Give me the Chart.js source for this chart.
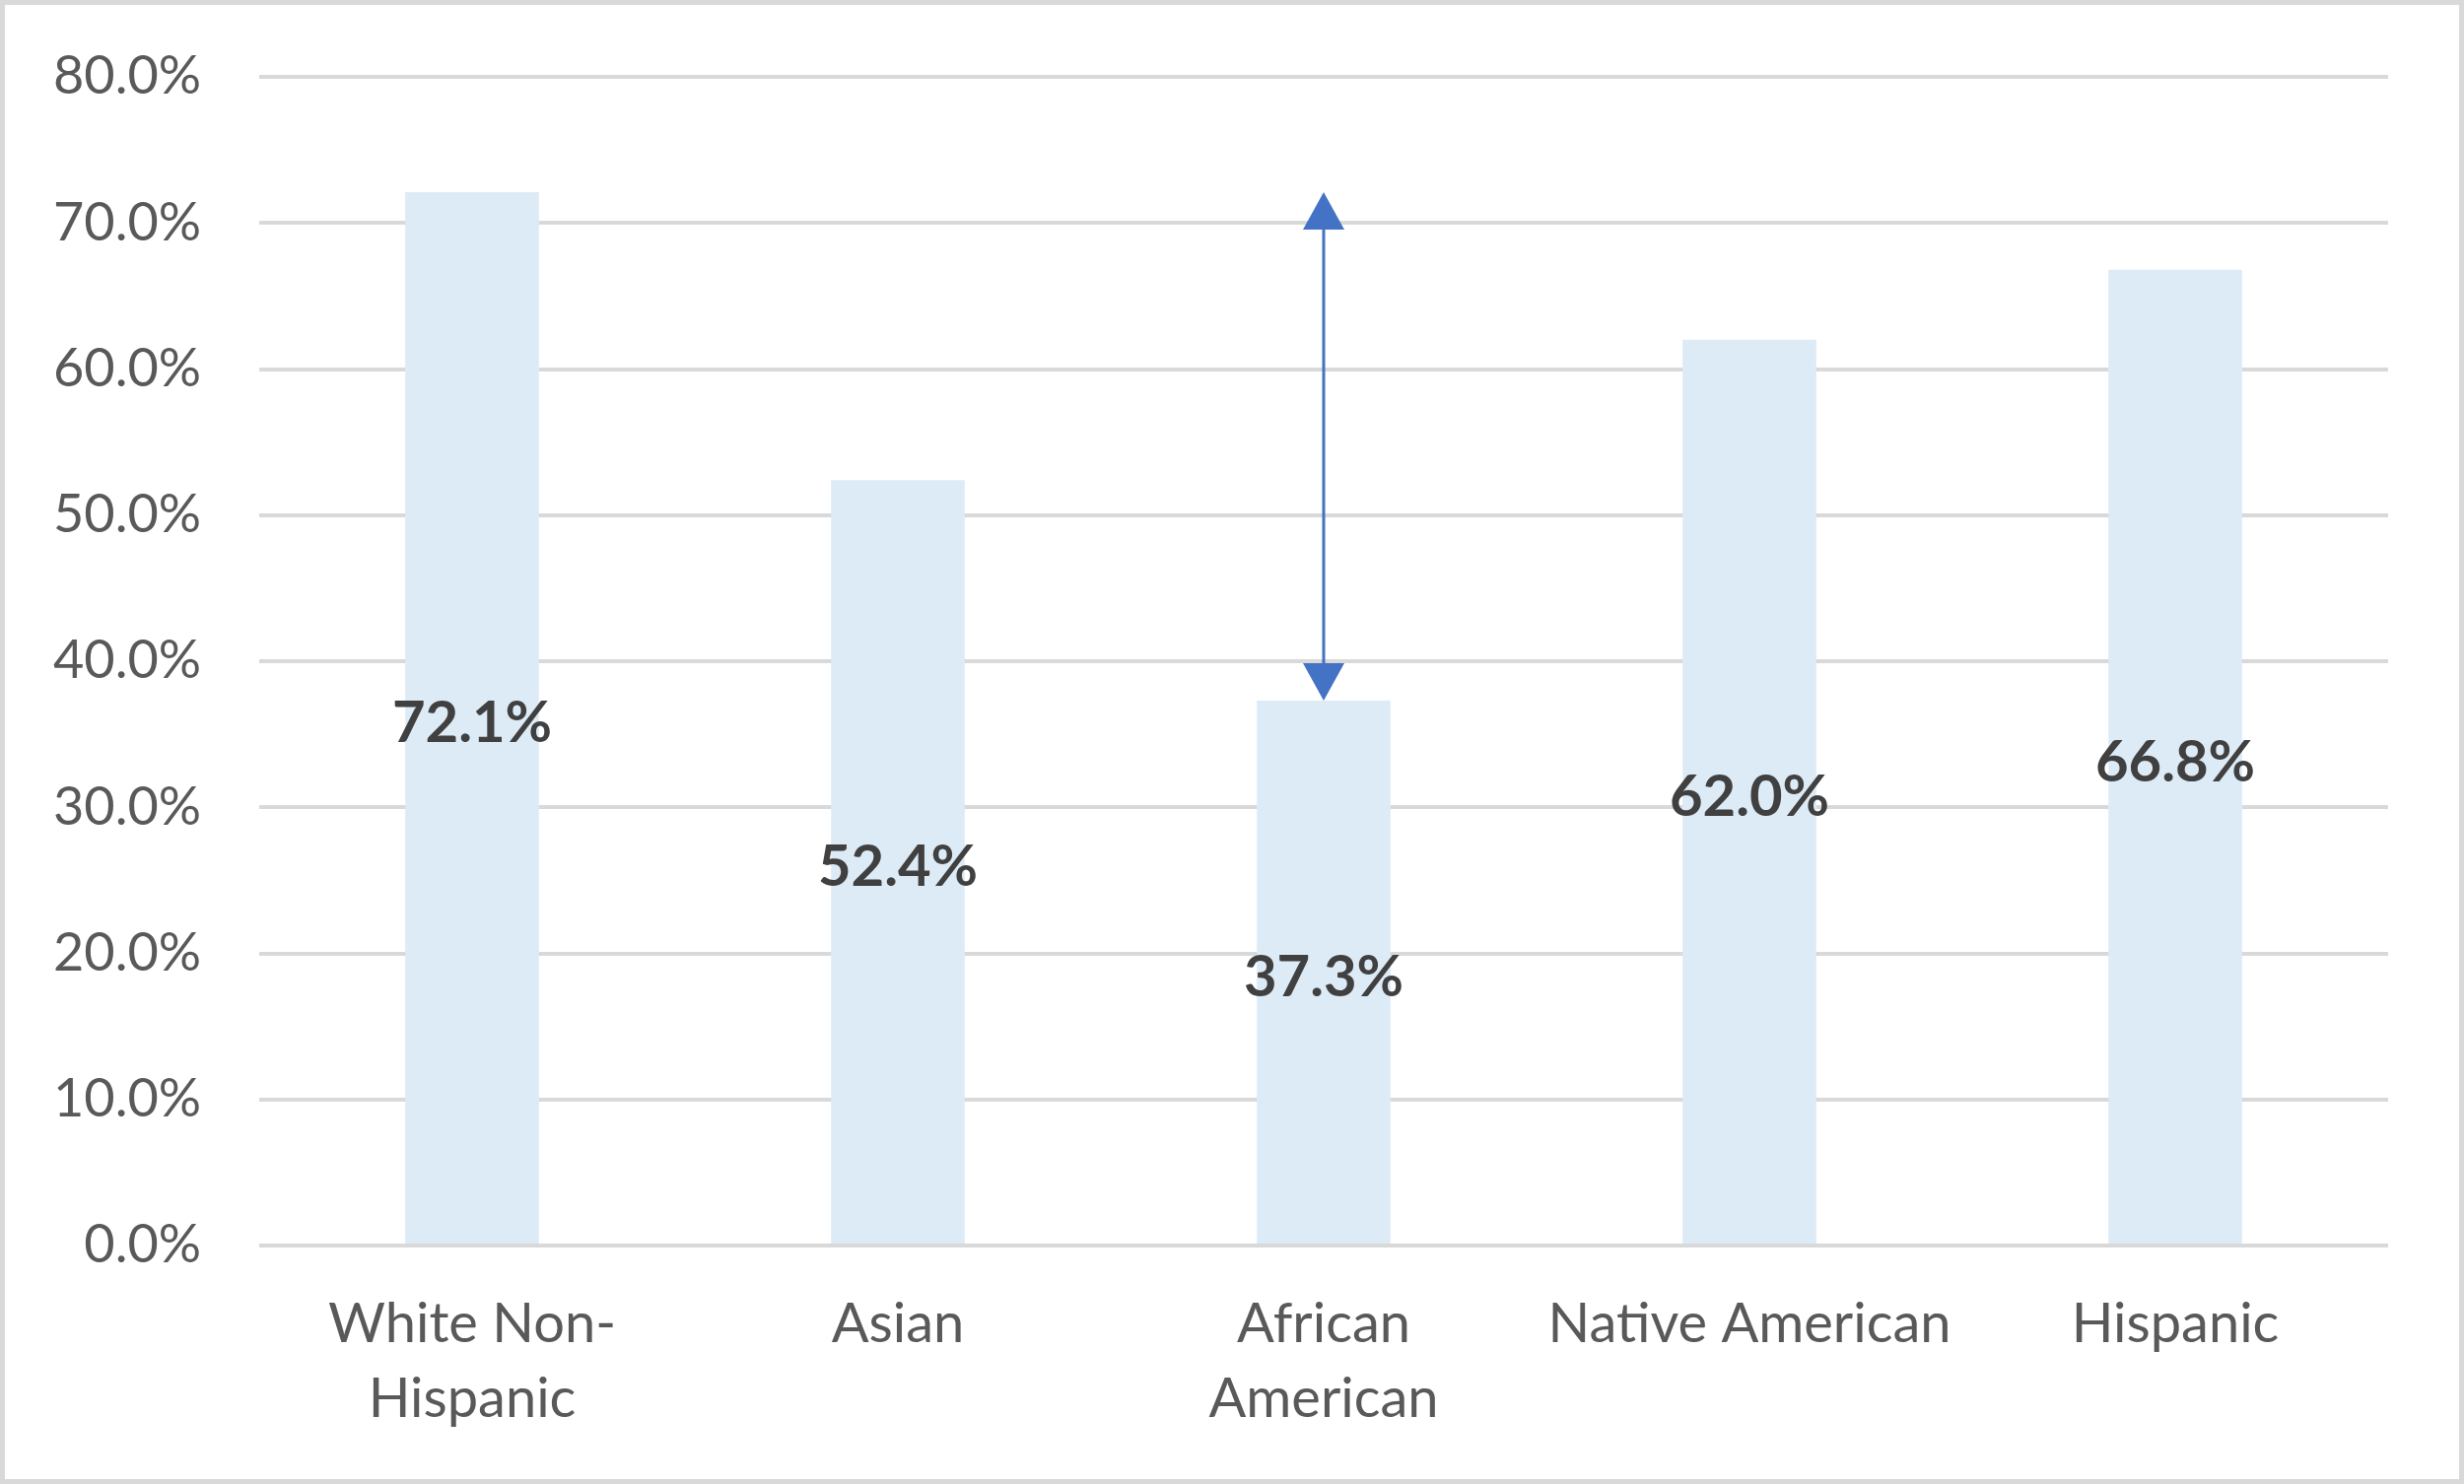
<!DOCTYPE html>
<html>
<head>
<meta charset="utf-8">
<script src="https://cdn.jsdelivr.net/npm/chart.js@4.4.1/dist/chart.umd.min.js"></script>
<style>
html, body { margin: 0; padding: 0; background: #fff; }
#wrap { width: 2500px; height: 1506px; box-sizing: border-box; border: 5px solid #d9d9d9; background: #fff; }
#wrap canvas { display: block; }
</style>
</head>
<body>
<div id="wrap"><canvas id="gapChart" width="2490" height="1496"></canvas></div>
<script>
// data
const categories = [["White Non-", "Hispanic"], "Asian", ["African", "American"], "Native American", "Hispanic"];
const rates = [72.1, 52.4, 37.3, 62.0, 66.8];
const yMin = 0, yMax = 80, yStep = 10;
// arrow shows the gap between these two bars
const gapFrom = 0;
const gapTo = 2;

const FONT = "Lato, 'Open Sans', sans-serif";

const barLabels = {
    id: 'barLabels',
    afterDatasetsDraw(chart) {
        const ctx = chart.ctx;
        const meta = chart.getDatasetMeta(0);
        ctx.save();
        ctx.font = "bold 58px " + FONT;
        ctx.fillStyle = '#404040';
        ctx.textAlign = 'center';
        ctx.textBaseline = 'middle';
        meta.data.forEach((bar, i) => {
            const p = bar.getProps(['x', 'y', 'base'], true);
            ctx.fillText(rates[i].toFixed(1) + '%', p.x, (p.y + p.base) / 2 + 6);
        });
        ctx.restore();
    }
};

const gapArrow = {
    id: 'gapArrow',
    afterDatasetsDraw(chart) {
        const ctx = chart.ctx;
        const xs = chart.scales.x, ys = chart.scales.y;
        const x = xs.getPixelForValue(gapTo);
        const yTop = ys.getPixelForValue(rates[gapFrom]);
        const yBot = ys.getPixelForValue(rates[gapTo]);
        const headLen = 38, headW = 21;
        ctx.save();
        ctx.strokeStyle = '#4472c4';
        ctx.fillStyle = '#4472c4';
        ctx.lineWidth = 3;
        ctx.beginPath();
        ctx.moveTo(x, yTop + headLen);
        ctx.lineTo(x, yBot - headLen);
        ctx.stroke();
        ctx.beginPath();
        ctx.moveTo(x, yTop);
        ctx.lineTo(x - headW, yTop + headLen);
        ctx.lineTo(x + headW, yTop + headLen);
        ctx.closePath();
        ctx.fill();
        ctx.beginPath();
        ctx.moveTo(x, yBot);
        ctx.lineTo(x - headW, yBot - headLen);
        ctx.lineTo(x + headW, yBot - headLen);
        ctx.closePath();
        ctx.fill();
        ctx.restore();
    }
};

new Chart(document.getElementById('gapChart'), {
    type: 'bar',
    data: {
        labels: categories,
        datasets: [{
            data: rates,
            backgroundColor: '#ddebf7',
            borderWidth: 0,
            barPercentage: 0.314,
            categoryPercentage: 1
        }]
    },
    options: {
        responsive: false,
        animation: false,
        layout: { padding: { top: 73, right: 72, bottom: 0, left: 0 } },
        plugins: {
            legend: { display: false },
            tooltip: { enabled: false }
        },
        scales: {
            x: {
                grid: { display: false, drawTicks: false },
                border: { display: false },
                ticks: {
                    color: '#595959',
                    padding: 42,
                    maxRotation: 0,
                    autoSkip: false,
                    font: { family: FONT, size: 56, lineHeight: 1.36 }
                },
                afterFit(scale) {
                    scale.height = 237;
                    scale.paddingLeft = 0;
                    scale.paddingRight = 0;
                }
            },
            y: {
                min: yMin,
                max: yMax,
                grid: { color: '#d9d9d9', lineWidth: 4, drawTicks: false },
                border: { display: false },
                ticks: {
                    stepSize: yStep,
                    color: '#595959',
                    padding: 59,
                    font: { family: FONT, size: 54 },
                    callback: v => v.toFixed(1) + '%'
                },
                afterFit(scale) {
                    scale.width = 258;
                    scale.paddingTop = 0;
                    scale.paddingBottom = 0;
                }
            }
        }
    },
    plugins: [barLabels, gapArrow]
});
</script>
</body>
</html>
